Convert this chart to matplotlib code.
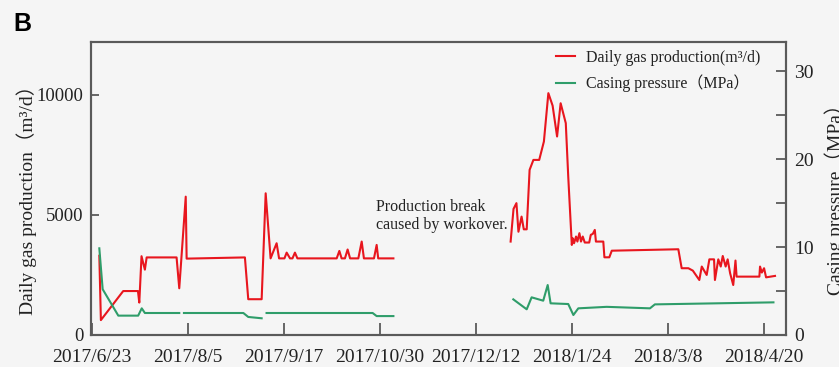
import numpy as np
import pandas as pd
import matplotlib
matplotlib.use("Agg")
import matplotlib.pyplot as plt

SERIF = ["Liberation Serif", "Noto Sans CJK SC"]
plt.rcParams["font.family"] = SERIF
plt.rcParams["mathtext.fontset"] = "stix"

START = pd.Timestamp("2017-06-23")

# Daily gas production (m3/d); days counted from 2017/6/23
gas_days_1 = [3.3, 4.0, 14.0, 20.6, 21.2, 22.2, 23.7, 24.5, 37.9, 39.1, 42.0, 42.4,
              68.5, 70.0, 76.0, 77.8, 80.0, 82.7, 83.8, 86.2, 87.2, 88.7, 89.8,
              90.9, 92.0, 109.6, 110.8, 111.8, 113.3, 114.5, 115.6, 119.3, 120.8,
              121.8, 126.3, 127.5, 128.2, 135.0]
gas_vals_1 = [3300, 620, 1830, 1830, 1350, 3280, 2720, 3230, 3230, 1945, 5760, 3180,
              3230, 1490, 1490, 5900, 3190, 3820, 3190, 3190, 3430, 3190, 3190,
              3430, 3190, 3190, 3500, 3190, 3190, 3560, 3190, 3190, 3890,
              3190, 3190, 3750, 3190, 3190]

gas_days_2 = [187.5, 188.8, 190.1, 191.0, 192.4, 193.4, 194.7, 196.0, 197.7, 200.3,
              202.4, 204.4, 206.3, 208.3, 209.9, 212.2, 213.3, 214.9, 215.3, 215.9,
              216.8, 217.4, 218.3, 219.0, 219.8, 220.7, 222.7, 223.4, 224.3, 225.2,
              225.7, 229.0, 229.5, 231.7, 232.8, 262.6, 264.1, 267.1, 269.1, 272.0,
              273.1, 275.3, 276.5, 278.6, 279.0, 280.5, 281.6, 282.5, 283.8, 284.7,
              285.8, 287.2, 288.2, 288.7, 298.9, 299.2, 300.0, 301.0, 301.9, 305.9]
gas_vals_2 = [3890, 5250, 5490, 4300, 4930, 4400, 4400, 6875, 7290, 7290,
              8055, 10070, 9550, 8265, 9650, 8820, 6600, 3750, 4030, 3820,
              4100, 3890, 4240, 3890, 4100, 3850, 3850, 4170, 4210, 4375,
              3890, 3890, 3235, 3235, 3510, 3570, 2780, 2780, 2680, 2290,
              2850, 2500, 3150, 3150, 2290, 3150, 2850, 3290, 2850, 3150,
              2570, 2080, 3100, 2430, 2430, 2850, 2600, 2780, 2400, 2460]

# Casing pressure (MPa)
cp_days_1 = [3.3, 4.8, 11.8, 20.7, 22.3, 23.7, 39.1]
cp_vals_1 = [9.85, 5.2, 2.2, 2.2, 3.03, 2.5, 2.5]
cp_days_2 = [41.2, 67.8, 70.0, 76.0]
cp_vals_2 = [2.5, 2.5, 2.05, 1.9]
cp_days_3 = [78.2, 125.7, 127.5, 135.0]
cp_vals_3 = [2.5, 2.5, 2.15, 2.15]
cp_days_4 = [188.7, 194.7, 196.9, 202.1, 204.1, 205.4, 213.3, 215.6, 217.8,
             230.5, 249.9, 252.1, 305.2]
cp_vals_4 = [4.05, 2.92, 4.28, 3.9, 5.68, 3.6, 3.52, 2.27, 3.03,
             3.2, 3.03, 3.48, 3.71]

tick_dates = ["2017-06-23", "2017-08-05", "2017-09-17", "2017-10-30",
              "2017-12-12", "2018-01-24", "2018-03-08", "2018-04-20"]
tick_labels = ["2017/6/23", "2017/8/5", "2017/9/17", "2017/10/30",
               "2017/12/12", "2018/1/24", "2018/3/8", "2018/4/20"]


def to_dates(days):
    return START + pd.to_timedelta(np.asarray(days, dtype=float), unit="D")


BG = "#f5f5f5"
RED = "#e8161e"
GREEN = "#2f9d6a"
SPINE = "#5a5a5a"
TXT = "#222222"

fig = plt.figure(figsize=(8.39, 3.67), dpi=100, facecolor=BG)
ax = fig.add_axes([0.108, 0.0872, 0.8285, 0.7984], facecolor=BG)
ax2 = ax.twinx()

l_gas, = ax.plot(to_dates(gas_days_1), gas_vals_1, color=RED, lw=1.5)
ax.plot(to_dates(gas_days_2), gas_vals_2, color=RED, lw=1.5)
l_cp, = ax2.plot(to_dates(cp_days_1), cp_vals_1, color=GREEN, lw=1.5)
for d, v in [(cp_days_2, cp_vals_2), (cp_days_3, cp_vals_3), (cp_days_4, cp_vals_4)]:
    ax2.plot(to_dates(d), v, color=GREEN, lw=1.5)

ax.set_xlim(START - pd.Timedelta(days=0.6), START + pd.Timedelta(days=310.7))
ax.set_ylim(0, 12200)
ax2.set_ylim(0, 33.3)

ax.set_xticks(pd.to_datetime(tick_dates))
ax.set_xticklabels(tick_labels)
ax.set_yticks([0, 5000, 10000])
ax.minorticks_off()
ax2.set_yticks([0, 10, 20, 30])
ax2.set_yticks([5, 15, 25], minor=True)

ax.tick_params(axis="x", direction="in", length=9, width=1.3, color=SPINE,
               labelsize=14, pad=10)
ax.tick_params(axis="y", direction="in", length=6, width=1.3, color=SPINE,
               labelsize=13.5, pad=5)
ax2.tick_params(axis="y", which="both", direction="in", length=7, width=1.3,
                color=SPINE, labelsize=14, pad=6)
for a in (ax, ax2):
    for s in a.spines.values():
        s.set_color(SPINE)
        s.set_linewidth(1.5)
    for lab in a.get_xticklabels() + a.get_yticklabels():
        lab.set_color(TXT)

fig.text(16 / 839, 1 - 195 / 367, "Daily gas production（m³/d）", rotation=90,
         ha="left", va="center", fontsize=14, color=TXT, family=SERIF)
fig.text(824 / 839, 1 - 195 / 367, "Casing pressure（MPa）", rotation=90,
         ha="left", va="center", fontsize=14, color=TXT, family=SERIF)

fig.text(376 / 839, 1 - 199 / 367, "Production break\ncaused by workover.",
         ha="left", va="top", fontsize=11.5, linespacing=1.2, color=TXT,
         family=SERIF)

fig.text(13 / 839, 1 - 12 / 367, "B", ha="left", va="top", fontsize=18,
         fontweight="bold", family=["Liberation Sans"], color="black")

leg = fig.legend([l_gas, l_cp],
                 ["Daily gas production(m³/d)", "Casing pressure（MPa）"],
                 loc="upper left", bbox_to_anchor=(556 / 839, 1 - 50 / 367),
                 frameon=False, handlelength=1.2,
                 handletextpad=0.7, labelspacing=0.55, borderpad=0,
                 borderaxespad=0, prop={"family": SERIF, "size": 11.5})
for t in leg.get_texts():
    t.set_color(TXT)

fig.savefig("out.png", dpi=100, facecolor=BG)
